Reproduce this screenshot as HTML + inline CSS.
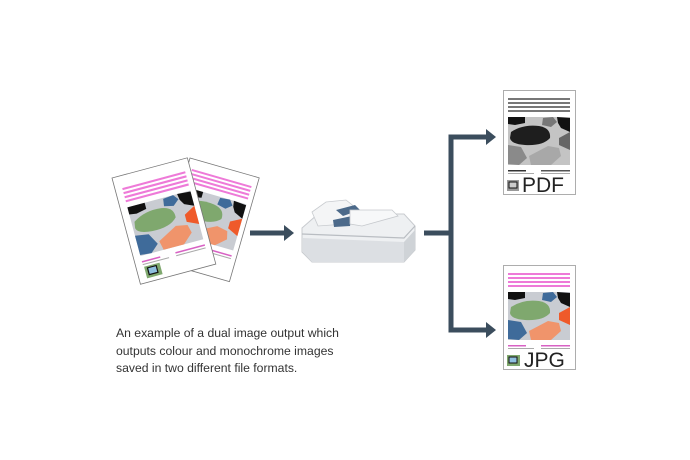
<!DOCTYPE html>
<html><head><meta charset="utf-8"><style>
html,body{margin:0;padding:0;background:#fff;}
body{width:690px;height:460px;overflow:hidden;position:relative;font-family:"Liberation Sans",Arial,sans-serif;}
.cap{position:absolute;left:116px;top:325px;font-size:12.2px;line-height:17.6px;color:#333;}
</style></head><body>
<svg width="690" height="460" viewBox="0 0 690 460" style="position:absolute;left:0;top:0">
<defs>
<g id="colorbody">
  <rect x="5" y="8" width="62" height="2" fill="#ee7ad8"/>
  <rect x="5" y="12" width="62" height="2" fill="#ee7ad8"/>
  <rect x="5" y="16" width="62" height="2" fill="#ee7ad8"/>
  <rect x="5" y="20" width="62" height="2" fill="#ee7ad8"/>
  <rect x="5" y="27" width="62" height="48" fill="#c9ccd2"/>
  <path d="M5 27 L22 27 L22 33 L12 35 L5 34Z" fill="#111"/>
  <path d="M40 28 L50 27 L54 32 L48 37 L39 35Z" fill="#3f6b9a"/>
  <path d="M54 27 L67 28 L67 42 L58 38 L55 33Z" fill="#111"/>
  <path d="M8 42 Q20 34 36 36 Q48 38 47 48 Q40 56 22 55 Q8 54 7 48Z" fill="#7fa86e"/>
  <path d="M5 55 L18 57 L24 68 L16 75 L5 74Z" fill="#3f6b9a"/>
  <path d="M26 66 L45 56 L56 58 L58 66 L48 75 L28 75Z" fill="#f0946b"/>
  <path d="M56 48 L67 42 L67 60 L56 55Z" fill="#ef5a2a"/>
  <rect x="5" y="80" width="18" height="1.5" fill="#d862c4"/>
  <rect x="5" y="83" width="26" height="1" fill="#aaa"/>
  <rect x="38" y="80" width="29" height="1.5" fill="#d862c4"/>
  <rect x="38" y="83" width="29" height="1" fill="#aaa"/>
</g>
<g id="bwbody">
  <rect x="5" y="8" width="62" height="2" fill="#777"/>
  <rect x="5" y="12" width="62" height="2" fill="#777"/>
  <rect x="5" y="16" width="62" height="2" fill="#777"/>
  <rect x="5" y="20" width="62" height="2" fill="#777"/>
  <rect x="5" y="27" width="62" height="48" fill="#c4c4c4"/>
  <path d="M5 27 L22 27 L22 33 L12 35 L5 34Z" fill="#111"/>
  <path d="M40 28 L50 27 L54 32 L48 37 L39 35Z" fill="#777"/>
  <path d="M54 27 L67 28 L67 42 L58 38 L55 33Z" fill="#111"/>
  <path d="M8 42 Q20 34 36 36 Q48 38 47 48 Q40 56 22 55 Q8 54 7 48Z" fill="#1e1e1e"/>
  <path d="M5 55 L18 57 L24 68 L16 75 L5 74Z" fill="#8a8a8a"/>
  <path d="M26 66 L45 56 L56 58 L58 66 L48 75 L28 75Z" fill="#a8a8a8"/>
  <path d="M56 48 L67 42 L67 60 L56 55Z" fill="#666"/>
  <rect x="5" y="80" width="18" height="1.5" fill="#333"/>
  <rect x="5" y="83" width="26" height="1" fill="#aaa"/>
  <rect x="38" y="80" width="29" height="1.5" fill="#555"/>
  <rect x="38" y="83" width="29" height="1" fill="#aaa"/>
</g>
<g id="front">
  <rect x="0" y="0" width="78" height="110" fill="#fff" stroke="#777" stroke-width="0.8"/>
  <g transform="translate(2,4) scale(1.05)"><use href="#colorbody"/></g>
  <rect x="8" y="94" width="16" height="12" fill="#7fa86e"/>
  <rect x="11" y="96" width="9" height="7" fill="#8fc0e0" stroke="#111" stroke-width="1.2"/>
</g>
</defs>

<g transform="translate(190,158) rotate(16)">
  <rect x="0" y="0" width="72" height="108" fill="#fff" stroke="#777" stroke-width="0.8"/>
  <g transform="translate(0,2)"><use href="#colorbody"/></g>
</g>
<g transform="translate(112,178) rotate(-15)"><use href="#front"/></g>

<g stroke="#3b4d5d" stroke-width="5" fill="none">
  <line x1="250" y1="233" x2="286" y2="233"/>
  <line x1="424" y1="233" x2="452" y2="233"/>
  <polyline points="491,137 451,137 451,330 491,330"/>
</g>
<g fill="#3b4d5d">
  <polygon points="284,225 294,233 284,241"/>
  <polygon points="486,129 496,137 486,145"/>
  <polygon points="486,322 496,330 486,338"/>
</g>

<!-- scanner -->
<g>
  <path d="M302 228 L318 214 L404 214 L415 226 L415 250 L404 262 L312 262 L302 252Z" fill="#eef0f2" stroke="#c8cbcf" stroke-width="1"/>
  <path d="M302 234 L404 238 L415 226" fill="none" stroke="#b9bdc2" stroke-width="1.2"/>
  <path d="M303 238 L404 242 L404 262 L312 262 L303 252Z" fill="#dcdfe3"/>
  <path d="M404 242 L415 230 L415 250 L404 262Z" fill="#cfd3d7"/>
  <path d="M312 212 L326 202 L346 200 L356 208 L346 224 L318 226Z" fill="#f4f5f6" stroke="#c8cbcf" stroke-width="0.8"/>
  <path d="M336 210 L355 205 L360 210 L343 216Z" fill="#4c6a8a"/>
  <path d="M333 220 L352 216 L350 226 L334 227Z" fill="#4c6a8a"/>
  <path d="M350 210 L392 210 L398 216 L362 226 L350 224Z" fill="#f7f8f9" stroke="#c6c9cd" stroke-width="0.8"/>
</g>

<g transform="translate(503,90)">
  <rect x="0.5" y="0.5" width="72" height="104" fill="#fff" stroke="#999" stroke-width="0.8"/>
  <use href="#bwbody"/>
  <rect x="4" y="90" width="12" height="11" fill="#999"/>
  <rect x="6" y="92" width="8" height="6" fill="#ccc" stroke="#111" stroke-width="1"/>
  <text x="19" y="102" font-family="Liberation Sans,sans-serif" font-size="21" fill="#222">PDF</text>
</g>
<g transform="translate(503,265)">
  <rect x="0.5" y="0.5" width="72" height="104" fill="#fff" stroke="#999" stroke-width="0.8"/>
  <use href="#colorbody"/>
  <rect x="4" y="90" width="13" height="11" fill="#7fa86e"/>
  <rect x="6" y="92" width="8" height="6" fill="#8fc0e0" stroke="#111" stroke-width="1"/>
  <text x="21" y="102" font-family="Liberation Sans,sans-serif" font-size="21" fill="#222">JPG</text>
</g>
</svg>
<div class="cap">An example of a dual image output which<br>outputs colour and monochrome images<br>saved in two different file formats.</div>
</body></html>
